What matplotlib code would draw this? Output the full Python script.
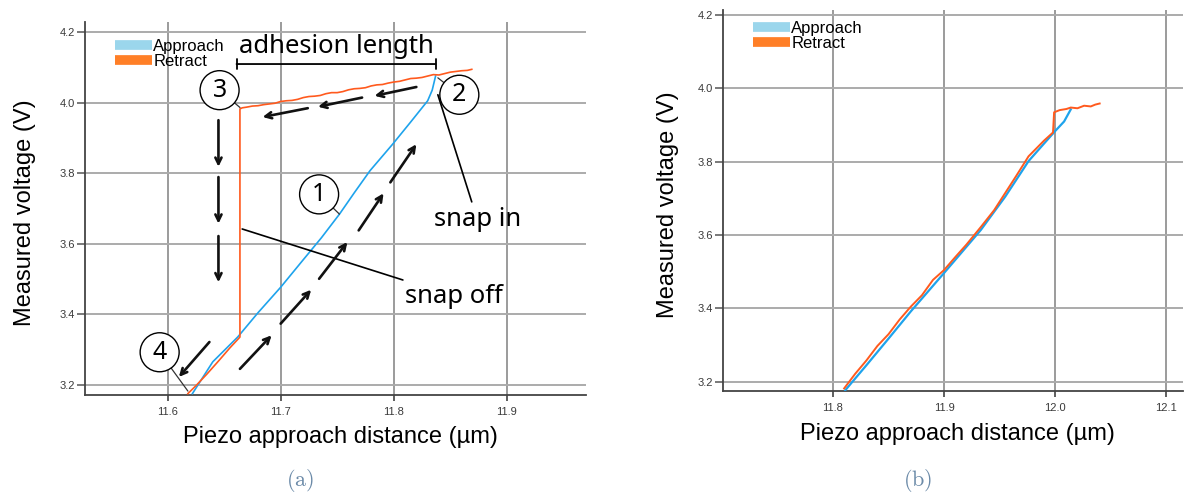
import matplotlib
matplotlib.use("Agg")
import matplotlib.pyplot as plt
from matplotlib.lines import Line2D

# ---------------- data ----------------
# panel (a)
a_app_x = [11.622, 11.640, 11.662, 11.680, 11.700, 11.720, 11.736, 11.752,
           11.765, 11.779, 11.799, 11.815, 11.830, 11.834, 11.837]
a_app_y = [3.176, 3.266, 3.336, 3.405, 3.477, 3.555, 3.617, 3.684,
           3.744, 3.807, 3.882, 3.945, 4.005, 4.035, 4.075]

a_ret_x = [11.869, 11.865, 11.860, 11.855, 11.850, 11.845, 11.840, 11.835,
           11.830, 11.825, 11.820, 11.815, 11.810, 11.805, 11.800, 11.795,
           11.790, 11.785, 11.780, 11.775, 11.770, 11.765, 11.760, 11.755,
           11.750, 11.745, 11.740, 11.735, 11.730, 11.725, 11.720, 11.715,
           11.710, 11.705, 11.700, 11.695, 11.690, 11.685, 11.680, 11.675,
           11.670, 11.666, 11.664, 11.664, 11.655, 11.645, 11.635, 11.625,
           11.618]
a_ret_y = [4.094, 4.091, 4.090, 4.088, 4.086, 4.082, 4.078, 4.079,
           4.075, 4.071, 4.069, 4.068, 4.064, 4.060, 4.058, 4.055,
           4.051, 4.050, 4.047, 4.042, 4.040, 4.039, 4.036, 4.031,
           4.028, 4.028, 4.025, 4.020, 4.018, 4.017, 4.014, 4.009,
           4.006, 4.005, 4.003, 3.998, 3.996, 3.994, 3.991, 3.990,
           3.987, 3.985, 3.982, 3.336, 3.305, 3.268, 3.232, 3.198,
           3.176]

# panel (b)
b_app_x = [11.811, 11.830, 11.850, 11.870, 11.900, 11.933, 11.955, 11.976,
           11.990, 12.000, 12.008, 12.014]
b_app_y = [3.177, 3.245, 3.318, 3.392, 3.497, 3.614, 3.705, 3.802,
           3.850, 3.884, 3.910, 3.943]

b_ret_x = [11.810, 11.820, 11.830, 11.840, 11.850, 11.860, 11.870, 11.880,
           11.890, 11.900, 11.910, 11.920, 11.933, 11.945, 11.955, 11.965,
           11.976, 11.990, 11.998, 11.999, 12.004, 12.010, 12.014, 12.020,
           12.026, 12.032, 12.036, 12.040]
b_ret_y = [3.182, 3.222, 3.258, 3.298, 3.330, 3.370, 3.405, 3.436,
           3.478, 3.505, 3.540, 3.574, 3.622, 3.668, 3.715, 3.762,
           3.815, 3.858, 3.880, 3.935, 3.941, 3.944, 3.948, 3.946,
           3.953, 3.951, 3.956, 3.959]

y_ticks = [3.2, 3.4, 3.6, 3.8, 4.0, 4.2]
a_x_ticks = [11.6, 11.7, 11.8, 11.9]
b_x_ticks = [11.8, 11.9, 12.0, 12.1]

APP_LINE = '#1ea3ec'
RET_LINE = '#ff5a1e'
APP_PATCH = '#9bd6ec'
RET_PATCH = '#ff7f27'

plt.rcParams['font.family'] = ['Liberation Sans', 'DejaVu Sans']
plt.rcParams['mathtext.fontset'] = 'cm'

W, H = 1184, 499
fig = plt.figure(figsize=(W / 100, H / 100), dpi=100)
fig.patch.set_facecolor('white')


def px_axes(l, t, r, b):
    return fig.add_axes([l / W, (H - b) / H, (r - l) / W, (b - t) / H])


def style_axes(ax, xticks, xlim, ylim):
    ax.set_xlim(*xlim)
    ax.set_ylim(*ylim)
    ax.set_xticks(xticks)
    ax.set_yticks(y_ticks)
    ax.set_xticklabels([f'{v:.1f}' for v in xticks])
    ax.set_yticklabels([f'{v:.1f}' for v in y_ticks])
    for s in ['top', 'right']:
        ax.spines[s].set_visible(False)
    for s in ['left', 'bottom']:
        ax.spines[s].set_color('#444444')
        ax.spines[s].set_linewidth(1.3)
    ax.tick_params(axis='x', direction='out', length=4.3, width=1.1,
                   color='#333333', labelsize=8, labelcolor='#3a3a3a', pad=4)
    ax.tick_params(axis='y', direction='out', length=5.5, width=1.1,
                   color='#555555', labelsize=8, labelcolor='#3a3a3a', pad=1.5)
    ax.set_axisbelow(True)
    ax.xaxis.grid(True, color='#8a8a8a', lw=1.2)
    ax.yaxis.grid(True, color='#ababab', lw=1.4)
    ax.set_xlabel('Piezo approach distance (µm)', fontsize=17)
    ax.set_ylabel('Measured voltage (V)', fontsize=17)


def add_legend(ax, anchor):
    handles = [Line2D([], [], color=APP_PATCH, lw=7, solid_capstyle='butt'),
               Line2D([], [], color=RET_PATCH, lw=7, solid_capstyle='butt')]
    ax.legend(handles, ['Approach', 'Retract'], loc='upper left',
              bbox_to_anchor=anchor, frameon=False, fontsize=12,
              handlelength=2.2, handletextpad=0.1, labelspacing=0.0,
              borderpad=0, borderaxespad=0)


# ---------------- panel (a) ----------------
ax1 = px_axes(85, 22, 586, 395)
style_axes(ax1, a_x_ticks, (11.527, 11.970), (3.172, 4.228))
ax1.xaxis.set_label_coords(0.51, -0.083)
ax1.yaxis.set_label_coords(-0.098, 0.49)

ax1.plot(a_app_x, a_app_y, color=APP_LINE, lw=1.2, zorder=3)
ax1.plot(a_ret_x, a_ret_y, color=RET_LINE, lw=1.2, zorder=3)
add_legend(ax1, (30 / 501, 1 - 17 / 373))

hand = dict(family=['Noto Sans', 'DejaVu Sans'], color='black')

# adhesion length bracket
ax1.annotate('', xy=(11.661, 4.109), xytext=(11.837, 4.109),
             arrowprops=dict(arrowstyle='|-|,widthA=0.35,widthB=0.35',
                             lw=1.3, color='black', shrinkA=0, shrinkB=0))
ax1.text(11.749, 4.160, 'adhesion length', fontsize=18.5, ha='center',
         va='center', **hand)

# circled step numbers with leader lines
circ = dict(boxstyle='circle,pad=0.28', fc='white', ec='black', lw=1.0)
lead = dict(arrowstyle='-', lw=0.9, color='#333333', shrinkA=0, shrinkB=0)
for num, tip, pos in [('3', (11.664, 3.986), (11.646, 4.035)),
                      ('2', (11.839, 4.070), (11.858, 4.022)),
                      ('1', (11.752, 3.684), (11.734, 3.740)),
                      ('4', (11.618, 3.183), (11.593, 3.293))]:
    ax1.annotate(num, xy=tip, xytext=pos, fontsize=18, ha='center',
                 va='center', bbox=circ, arrowprops=lead, zorder=5, **hand)

ax1.annotate('snap in', xy=(11.839, 4.022), xytext=(11.874, 3.668),
             fontsize=18.5, ha='center', va='center',
             arrowprops=dict(arrowstyle='-', lw=1.2, color='black',
                             shrinkB=0), **hand)
ax1.annotate('snap off', xy=(11.666, 3.642), xytext=(11.853, 3.452),
             fontsize=18.5, ha='center', va='center',
             arrowprops=dict(arrowstyle='-', lw=1.2, color='black',
                             shrinkB=0), **hand)

# direction arrows
arrow_segments = [
    ((11.820, 4.044), (11.783, 4.019)),
    ((11.772, 4.014), (11.733, 3.988)),
    ((11.724, 3.984), (11.684, 3.959)),
    ((11.645, 3.950), (11.645, 3.818)),
    ((11.645, 3.789), (11.645, 3.657)),
    ((11.645, 3.622), (11.645, 3.491)),
    ((11.637, 3.322), (11.610, 3.223)),
    ((11.664, 3.246), (11.692, 3.341)),
    ((11.700, 3.374), (11.727, 3.470)),
    ((11.734, 3.501), (11.759, 3.605)),
    ((11.769, 3.638), (11.791, 3.743)),
    ((11.797, 3.774), (11.820, 3.882)),
]
for start, end in arrow_segments:
    ax1.annotate('', xy=end, xytext=start,
                 arrowprops=dict(arrowstyle='->,head_length=0.45,head_width=0.22',
                                 lw=1.9, color='#111111', shrinkA=0, shrinkB=0))

# ---------------- panel (b) ----------------
ax2 = px_axes(723, 10, 1183, 391)
style_axes(ax2, b_x_ticks, (11.701, 12.115), (3.175, 4.214))
ax2.xaxis.set_label_coords(0.51, -0.083)
ax2.yaxis.set_label_coords(-0.096, 0.49)

ax2.plot(b_app_x, b_app_y, color=APP_LINE, lw=1.6, zorder=3)
ax2.plot(b_ret_x, b_ret_y, color=RET_LINE, lw=1.4, zorder=3)
add_legend(ax2, (30 / 460, 1 - 11 / 381))

# captions
fig.text(300 / W, 1 - 481 / H, r'$\mathrm{(a)}$', fontsize=16, color='#6b8aa8',
         ha='center', va='center')
fig.text(918 / W, 1 - 481 / H, r'$\mathrm{(b)}$', fontsize=16, color='#6b8aa8',
         ha='center', va='center')

fig.savefig('out.png', dpi=100, facecolor='white')
